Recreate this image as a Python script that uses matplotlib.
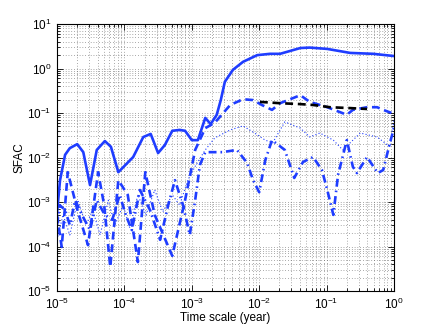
import matplotlib
matplotlib.use("Agg")
import matplotlib.pyplot as plt
import matplotlib.ticker as mticker
import numpy as np

plt.rcParams['font.family'] = ['Liberation Sans', 'DejaVu Sans']

# === data (log10 of time in years, log10 of SFAC) ===
solid_lx = [-5.00, -4.955, -4.88, -4.81, -4.70, -4.61, -4.51, -4.41, -4.29, -4.20, -4.09,
            -3.87, -3.72, -3.61, -3.50, -3.40, -3.29, -3.18, -3.10, -3.00, -2.91, -2.80,
            -2.72, -2.63, -2.57, -2.51, -2.39, -2.24, -2.03, -1.84, -1.69, -1.39, -1.25,
            -0.99, -0.65, -0.31, 0.00]
solid_ly = [-3.25, -2.51, -1.94, -1.79, -1.70, -1.88, -2.62, -1.83, -1.63, -1.76, -2.33,
            -1.99, -1.54, -1.47, -1.90, -1.72, -1.40, -1.38, -1.40, -1.61, -1.61, -1.11,
            -1.25, -1.04, -0.71, -0.30, -0.03, 0.15, 0.30, 0.33, 0.33, 0.46, 0.47,
            0.44, 0.35, 0.33, 0.28]

dash_lx = [-5.00, -4.93, -4.84, -4.69, -4.54, -4.39, -4.30, -4.21, -4.09, -3.95, -3.80,
           -3.69, -3.55, -3.29, -3.10, -2.95, -2.80, -2.66, -2.43, -2.24, -2.09, -1.96,
           -1.81, -1.69, -1.39, -1.25, -0.99, -0.70, -0.61, -0.40, -0.25, -0.16, 0.00]
dash_ly = [-3.29, -4.01, -2.33, -3.22, -3.97, -2.33, -3.07, -4.46, -2.51, -2.84, -4.35,
           -2.33, -3.29, -4.21, -2.96, -1.83, -1.34, -1.22, -0.82, -0.69, -0.71, -0.82,
           -0.93, -0.78, -0.60, -0.75, -0.87, -1.04, -0.93, -0.87, -0.87, -0.93, -1.02]

dashdot_lx = [-5.00, -4.96, -4.88, -4.81, -4.73, -4.63, -4.51, -4.41, -4.29, -4.18, -4.07,
              -3.98, -3.89, -3.77, -3.62, -3.47, -3.35, -3.25, -3.13, -3.03, -2.95, -2.88,
              -2.80, -2.55, -2.33, -2.18, -2.09, -2.00, -1.91, -1.81, -1.62, -1.48, -1.35,
              -1.20, -1.07, -0.99, -0.90, -0.83, -0.70, -0.61, -0.55, -0.40, -0.24, -0.16,
              -0.06, 0.00]
dashdot_ly = [-3.52, -3.07, -3.18, -3.52, -2.96, -3.29, -3.63, -2.96, -3.29, -3.40, -2.84,
              -3.29, -3.63, -2.73, -3.18, -3.85, -3.07, -2.51, -3.07, -3.74, -2.96, -2.17,
              -1.88, -1.88, -1.83, -2.12, -2.51, -2.78, -2.06, -1.61, -1.83, -2.46, -2.10,
              -1.99, -2.28, -2.73, -3.29, -2.39, -1.61, -2.21, -2.35, -1.99, -2.35, -2.28,
              -1.67, -1.34]

dot_lx = [-5.00, -4.91, -4.81, -4.69, -4.57, -4.47, -4.36, -4.24, -4.14, -4.02, -3.92,
          -3.80, -3.68, -3.55, -3.43, -3.29, -3.18, -3.06, -2.94, -2.80, -2.66, -2.43,
          -2.24, -2.09, -1.91, -1.80, -1.62, -1.39, -1.25, -1.10, -0.90, -0.76, -0.50,
          -0.25, -0.06, 0.00]
dot_ly = [-3.85, -3.29, -3.74, -2.96, -3.52, -3.18, -3.74, -2.96, -3.52, -3.07, -3.58,
          -2.84, -3.29, -2.73, -3.22, -2.84, -3.07, -2.51, -2.17, -1.83, -1.56, -1.38,
          -1.29, -1.43, -1.61, -1.67, -1.20, -1.34, -1.54, -1.45, -1.61, -1.83, -1.45,
          -1.54, -1.76, -1.16]

black_lx = [-1.99, -1.69, -1.39, -1.20, -0.95, -0.65, -0.40]
black_ly = [-0.75, -0.78, -0.80, -0.82, -0.87, -0.89, -0.91]

blue = '#1f3dff'

fig = plt.figure(figsize=(4.36, 3.27), dpi=100)
ax = fig.add_axes([57/436, 1 - 291/327, 337/436, 267/327])

def p(lx, ly):
    return 10.0 ** np.array(lx), 10.0 ** np.array(ly)

ax.plot(*p(solid_lx, solid_ly), color=blue, lw=1.9, ls='-')
ax.plot(*p(dash_lx, dash_ly), color=blue, lw=1.9, ls=(0, (3, 1.8)))
ax.plot(*p(dashdot_lx, dashdot_ly), color=blue, lw=1.9, ls=(0, (3, 1.5, 0.6, 1.5)))
ax.plot(*p(dot_lx, dot_ly), color=blue, lw=0.8, ls=(0, (1, 2)))
ax.plot(*p(black_lx, black_ly), color='black', lw=1.9, ls=(0, (3, 1.8)))

ax.set_xscale('log')
ax.set_yscale('log')
ax.set_xlim(1e-5, 1)
ax.set_ylim(1e-5, 10)
ax.xaxis.set_minor_formatter(mticker.NullFormatter())
ax.yaxis.set_minor_formatter(mticker.NullFormatter())

ax.grid(True, which='both', linestyle=(0, (1, 3)), color='0.35', linewidth=0.5)
ax.tick_params(which='both', direction='in', top=True, right=True, labelsize=8.5, width=0.6)
ax.tick_params(which='major', length=4, pad=4)
ax.tick_params(which='minor', length=2)
for s in ax.spines.values():
    s.set_linewidth(0.8)

ax.set_xlabel("Time scale (year)", fontsize=8.5, labelpad=0)
ax.set_ylabel("SFAC", fontsize=8.5, labelpad=1)

fig.savefig("out.png", dpi=100)
